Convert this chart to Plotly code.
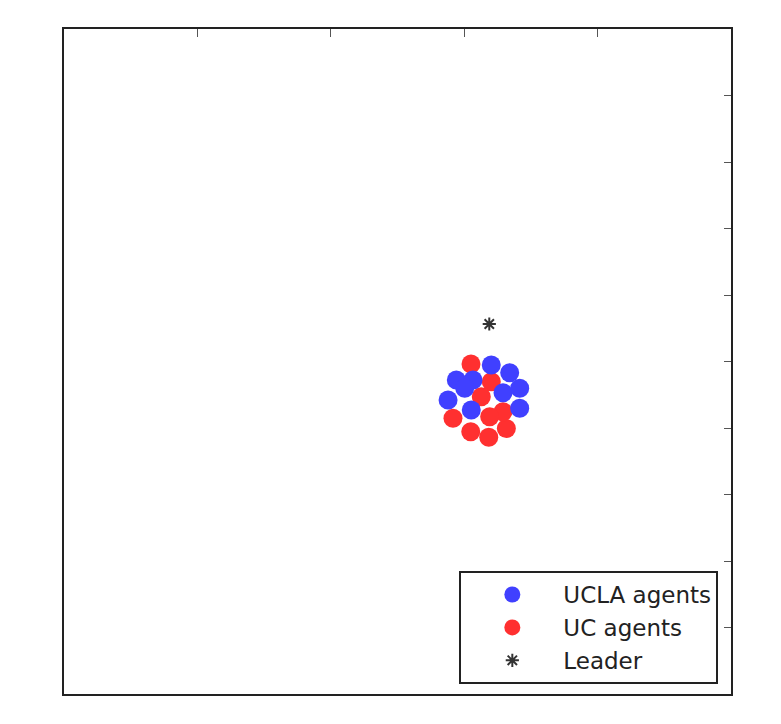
import plotly.graph_objects as go

# agent positions (axis units: x 0..5, y 0..10)
ucla_x = [3.203, 3.341, 3.416, 3.291, 3.416, 2.941, 3.066, 2.879, 3.053, 3.004]
ucla_y = [4.947, 4.832, 4.597, 4.531, 4.296, 4.722, 4.722, 4.421, 4.271, 4.597]

uc_x = [3.051, 2.916, 3.049, 3.184, 3.316, 3.203, 3.128, 3.291, 3.191]
uc_y = [4.962, 4.146, 3.944, 3.860, 3.992, 4.696, 4.471, 4.245, 4.170]

leader_x = [3.188]
leader_y = [5.564]

fig = go.Figure()

fig.add_trace(go.Scatter(
    x=uc_x, y=uc_y, mode='markers', name='UC agents',
    marker=dict(size=19, color='#ff3030', line=dict(width=0)),
    legendrank=2
))
fig.add_trace(go.Scatter(
    x=ucla_x, y=ucla_y, mode='markers', name='UCLA agents',
    marker=dict(size=19, color='#4040ff', line=dict(width=0)),
    legendrank=1
))
fig.add_trace(go.Scatter(
    x=leader_x, y=leader_y, mode='markers', name='Leader',
    marker=dict(symbol='asterisk-open', size=11, color='#333333',
                line=dict(width=2, color='#333333')),
    legendrank=3
))

# page body has an 8px margin, so the margins below are shifted by it
fig.update_layout(
    width=781, height=724,
    margin=dict(l=56, r=58, t=21, b=38),
    plot_bgcolor='white', paper_bgcolor='white',
    font=dict(family='DejaVu Sans', color='#222222'),
    legend=dict(
        x=0.981, y=0.015, xanchor='right', yanchor='bottom',
        bordercolor='#222222', borderwidth=2, bgcolor='white',
        font=dict(size=23, family='DejaVu Sans', color='#222222'),
        itemsizing='trace', itemwidth=92, tracegroupgap=0
    ),
    xaxis=dict(
        range=[0, 5], dtick=1, side='top', ticks='inside', ticklen=8,
        tickcolor='#555555', showticklabels=False, showgrid=False,
        zeroline=False, showline=True, mirror=True,
        linecolor='#222222', linewidth=2
    ),
    yaxis=dict(
        range=[0, 10], dtick=1, side='right', ticks='inside', ticklen=7,
        tickcolor='#555555', showticklabels=False, showgrid=False,
        zeroline=False, showline=True, mirror=True,
        linecolor='#222222', linewidth=2
    ),
)

fig.write_html("out.html")
